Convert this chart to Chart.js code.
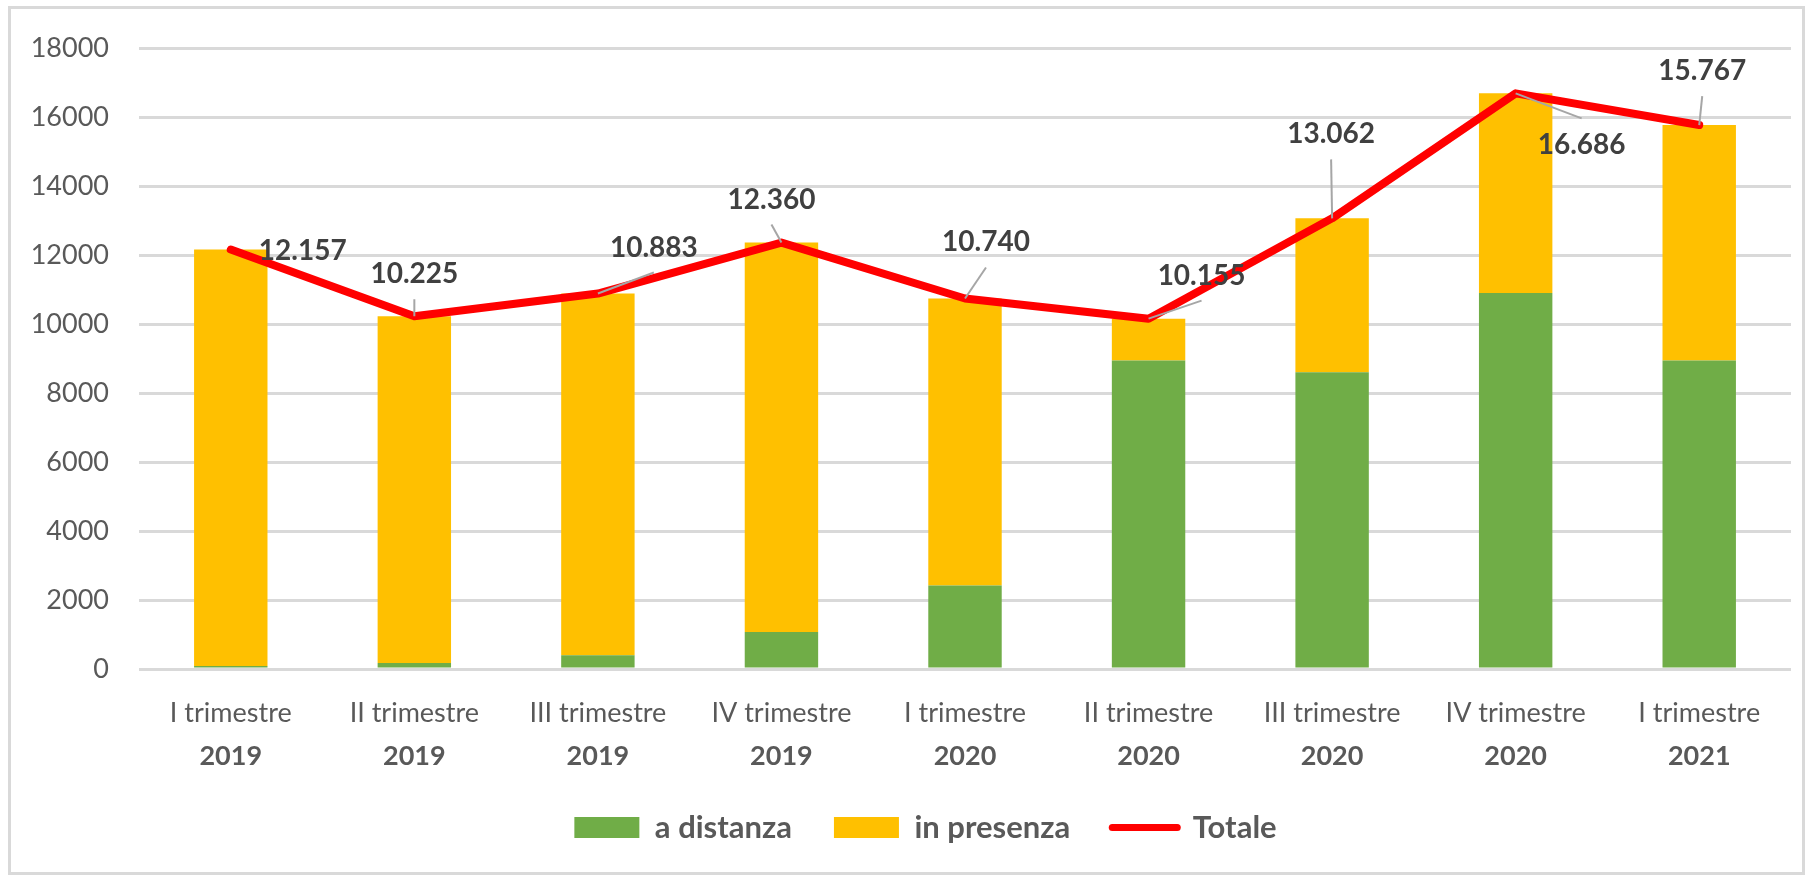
<!DOCTYPE html>
<html>
<head>
<meta charset="utf-8">
<script src="https://cdn.jsdelivr.net/npm/chart.js@4.4.1/dist/chart.umd.min.js"></script>
<style>
  html, body { margin: 0; padding: 0; background: #fff; }
  #wrap { position: relative; width: 1811px; height: 880px; }
  #frame {
    position: absolute; left: 8px; top: 6px; width: 1797px; height: 869px;
    border: 3px solid #d9d9d9; box-sizing: border-box; pointer-events: none;
  }
</style>
</head>
<body>
<div id="wrap">
  <canvas id="chart" width="1811" height="880"></canvas>
  <div id="frame"></div>
</div>
<script>
// categories (two lines each)
const quarters = ['I trimestre', 'II trimestre', 'III trimestre', 'IV trimestre', 'I trimestre',
                  'II trimestre', 'III trimestre', 'IV trimestre', 'I trimestre'];
const years = ['2019', '2019', '2019', '2019', '2020', '2020', '2020', '2020', '2021'];

// series
const aDistanza = [90, 175, 400, 1070, 2420, 8940, 8600, 10900, 8940];
const inPresenza = [12067, 10050, 10483, 11290, 8320, 1215, 4462, 5786, 6827];
const totale = [12157, 10225, 10883, 12360, 10740, 10155, 13062, 16686, 15767];

// y axis
const yMax = 18000;
const yStep = 2000;

// where each "Totale" label sits relative to its point (px)
const labelOffsets = [[72, 0], [0, -43], [56, -47], [-10, -44], [21, -57], [53, -44], [-1, -85], [66, 51], [3, -55]];

const fmt = v => String(v).replace(/\B(?=(\d{3})+(?!\d))/g, '.');

// value labels with leader lines, like Excel's
const totaleLabels = {
  id: 'totaleLabels',
  afterDatasetsDraw(chart) {
    const meta = chart.getDatasetMeta(2);
    const ctx = chart.ctx;
    ctx.save();
    ctx.font = 'bold 28px Lato';
    ctx.textAlign = 'center';
    ctx.textBaseline = 'alphabetic';
    meta.data.forEach((pt, i) => {
      const [dx, dy] = labelOffsets[i];
      const cx = pt.x + dx;
      const cy = pt.y + dy;
      const gap = 26;
      if (Math.abs(dy) > gap) {
        const ey = dy < 0 ? cy + gap : cy - gap;
        ctx.strokeStyle = '#a6a6a6';
        ctx.lineWidth = 2;
        ctx.beginPath();
        ctx.moveTo(pt.x, pt.y);
        ctx.lineTo(cx, ey);
        ctx.stroke();
      }
      ctx.fillStyle = '#404040';
      ctx.fillText(fmt(totale[i]), cx, cy + 10);
    });
    ctx.restore();
  }
};

// two-line category labels: quarter regular, year bold
const categoryLabels = {
  id: 'categoryLabels',
  afterDraw(chart) {
    const xs = chart.scales.x;
    const ctx = chart.ctx;
    ctx.save();
    ctx.fillStyle = '#595959';
    ctx.textAlign = 'center';
    ctx.textBaseline = 'alphabetic';
    quarters.forEach((q, i) => {
      const x = xs.getPixelForTick(i);
      ctx.font = '27px Lato';
      ctx.fillText(q, x, xs.top + 53);
      ctx.font = 'bold 27px Lato';
      ctx.fillText(years[i], x, xs.top + 96);
    });
    ctx.restore();
  }
};

// nudge the legend to the right, as in the original
const legendShift = {
  id: 'legendShift',
  afterLayout(chart) {
    chart.legend.left += 30;
    chart.legend.right += 30;
  }
};

new Chart(document.getElementById('chart'), {
  type: 'bar',
  data: {
    labels: quarters.map((q, i) => q + ' ' + years[i]),
    datasets: [
      {
        label: 'a distanza',
        data: aDistanza,
        backgroundColor: '#70AD47',
        borderWidth: 0,
        barPercentage: 0.4,
        categoryPercentage: 1,
        stack: 'bars',
        order: 1
      },
      {
        label: 'in presenza',
        data: inPresenza,
        backgroundColor: '#FFC000',
        borderWidth: 0,
        barPercentage: 0.4,
        categoryPercentage: 1,
        stack: 'bars',
        order: 1
      },
      {
        type: 'line',
        label: 'Totale',
        data: totale,
        borderColor: '#FF0000',
        backgroundColor: '#FF0000',
        borderWidth: 8,
        borderCapStyle: 'round',
        borderJoinStyle: 'round',
        pointRadius: 0,
        tension: 0,
        fill: false,
        stack: 'line',
        order: 0
      }
    ]
  },
  options: {
    responsive: false,
    animation: false,
    layout: { padding: { left: 0, right: 20, top: 48, bottom: 27 } },
    plugins: {
      tooltip: { enabled: false },
      legend: {
        position: 'bottom',
        labels: {
          usePointStyle: true,
          pointStyleWidth: 65,
          boxHeight: 21,
          padding: 42,
          color: '#595959',
          font: { family: 'Lato', size: 31, weight: 'bold' },
          generateLabels: chart => chart.data.datasets.map((ds, i) => ({
            text: ds.label,
            fillStyle: ds.backgroundColor,
            strokeStyle: ds.type === 'line' ? ds.borderColor : ds.backgroundColor,
            lineWidth: ds.type === 'line' ? 7 : 0,
            lineCap: 'round',
            pointStyle: ds.type === 'line' ? 'line' : 'rect',
            fontColor: '#595959',
            hidden: false,
            datasetIndex: i
          }))
        }
      }
    },
    scales: {
      x: {
        stacked: true,
        grid: { display: false },
        border: { display: false },
        ticks: { display: false },
        afterFit: scale => { scale.height = 101; }
      },
      y: {
        stacked: true,
        min: 0,
        max: yMax,
        border: { display: false },
        grid: { color: '#d9d9d9', lineWidth: 3, drawTicks: false },
        ticks: {
          stepSize: yStep,
          color: '#595959',
          padding: 30,
          font: { family: 'Lato', size: 27 },
          callback: v => String(v)
        },
        afterFit: scale => { scale.width = 139; }
      }
    }
  },
  plugins: [totaleLabels, categoryLabels, legendShift]
});
</script>
</body>
</html>
